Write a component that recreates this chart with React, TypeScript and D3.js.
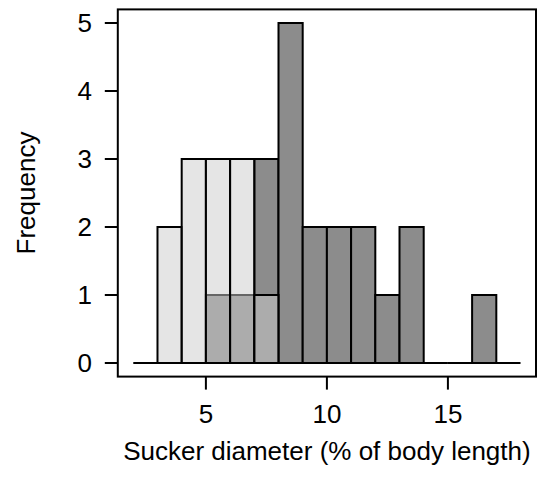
import React from "react";
import * as d3 from "d3";

// Histogram bins (width 1)
const darkBinStarts = [2, 3, 4, 5, 6, 7, 8, 9, 10, 11, 12, 13, 14, 15, 16, 17];
const darkCounts = [0, 0, 0, 1, 1, 3, 5, 2, 2, 2, 1, 2, 0, 0, 1, 0];
const lightBinStarts = [3, 4, 5, 6, 7];
const lightCounts = [2, 3, 3, 3, 1];
const binWidth = 1;
const xTicks = [5, 10, 15];
const yTicks = [0, 1, 2, 3, 4, 5];
const xLabel = "Sucker diameter (% of body length)";
const yLabel = "Frequency";

const W = 538;
const H = 480;
const plot = { left: 117.8, right: 536, top: 9.4, bottom: 376.6 };
const FONT = "'Liberation Sans', Arial, Helvetica, sans-serif";
const FS = 26;

export default function App() {
  const x = d3.scaleLinear().domain([1.36, 18.64]).range([plot.left, plot.right]);
  const y = d3.scaleLinear().domain([-0.2, 5.2]).range([plot.bottom, plot.top]);

  const barPath = (start: number, count: number) => {
    const p = d3.path();
    const x0 = x(start);
    const x1 = x(start + binWidth);
    const y0 = y(0);
    const y1 = y(count);
    p.moveTo(x0, y0);
    p.lineTo(x1, y0);
    p.lineTo(x1, y1);
    p.lineTo(x0, y1);
    p.closePath();
    return p.toString();
  };

  return (
    <svg
      width={W}
      height={H}
      style={{ position: "absolute", left: 0, top: 0, background: "#fff" }}
      fontFamily={FONT}
    >
      <rect x={0} y={0} width={W} height={H} fill="#fff" />
      {/* dark histogram */}
      <g>
        {darkBinStarts.map((s, i) => (
          <path
            key={"d" + i}
            d={barPath(s, darkCounts[i])}
            fill="#8c8c8c"
            stroke="#000"
            strokeWidth={2}
          />
        ))}
      </g>
      {/* light histogram, semi-transparent */}
      <g>
        {lightBinStarts.map((s, i) => (
          <path
            key={"l" + i}
            d={barPath(s, lightCounts[i])}
            fill="rgba(204,204,204,0.5)"
            stroke="#000"
            strokeWidth={2}
          />
        ))}
      </g>
      {/* frame */}
      <rect
        x={plot.left}
        y={plot.top}
        width={plot.right - plot.left}
        height={plot.bottom - plot.top}
        fill="none"
        stroke="#000"
        strokeWidth={2}
      />
      {/* x axis ticks */}
      {xTicks.map((t) => (
        <g key={"xt" + t}>
          <line x1={x(t)} x2={x(t)} y1={plot.bottom} y2={plot.bottom + 13} stroke="#000" strokeWidth={2} />
          <text x={x(t)} y={423} textAnchor="middle" fontSize={FS} fill="#000">
            {t}
          </text>
        </g>
      ))}
      {/* y axis ticks */}
      {yTicks.map((t) => (
        <g key={"yt" + t}>
          <line x1={plot.left - 13} x2={plot.left} y1={y(t)} y2={y(t)} stroke="#000" strokeWidth={2} />
          <text x={92} y={y(t) + 9.3} textAnchor="end" fontSize={FS} fill="#000">
            {t}
          </text>
        </g>
      ))}
      <text x={(plot.left + plot.right) / 2} y={460} textAnchor="middle" fontSize={FS} fill="#000">
        {xLabel}
      </text>
      <text
        transform={`translate(35,${(plot.top + plot.bottom) / 2}) rotate(-90)`}
        textAnchor="middle"
        fontSize={FS}
        fill="#000"
      >
        {yLabel}
      </text>
    </svg>
  );
}
